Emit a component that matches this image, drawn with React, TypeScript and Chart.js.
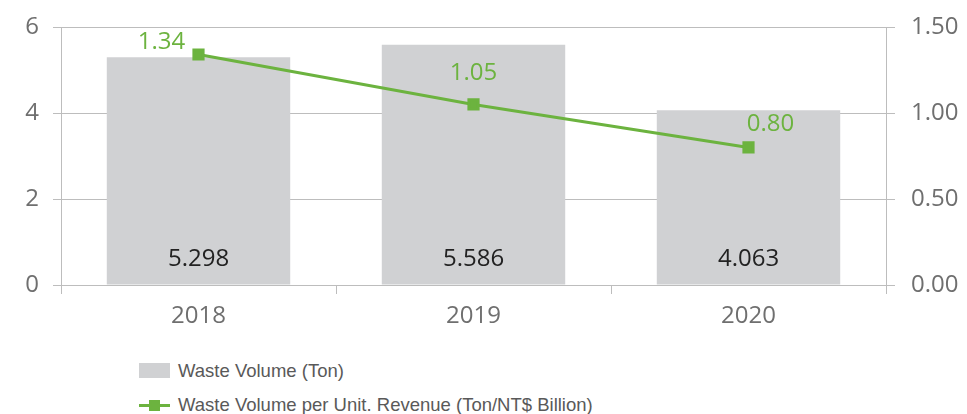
import React, { useEffect, useRef } from "react";
import { Chart, registerables } from "chart.js";

Chart.register(...registerables);

const categories = ["2018", "2019", "2020"];
const wasteVolume = [5.298, 5.586, 4.063];
const wastePerRevenue = [1.34, 1.05, 0.8];
const leftTicks = [0, 2, 4, 6];
const rightTicks = [0, 0.5, 1.0, 1.5];

const BAR_COLOR = "#d0d1d3";
const GREEN = "#6cb33f";
const TICK_COLOR = "#6f6f6f";
const GRID_COLOR = "#bdbdbd";
const FONT = "'Open Sans', 'Noto Sans', sans-serif";
const FONT_SIZE = 24;

// label offsets (px) for line point labels relative to the point
const lineLabelOffsets = [
  [-37, -12],
  [0, -31],
  [22, -23],
];

const labelPlugin = {
  id: "valueLabels",
  afterDatasetsDraw(chart: any) {
    const ctx = chart.ctx;
    ctx.save();
    ctx.font = `${FONT_SIZE}px ${FONT}`;
    ctx.textAlign = "center";
    ctx.textBaseline = "middle";
    const barMeta = chart.getDatasetMeta(0);
    const yScale = chart.scales.y;
    barMeta.data.forEach((el: any, i: number) => {
      ctx.fillStyle = "#222222";
      ctx.fillText(wasteVolume[i].toFixed(3), el.x, yScale.getPixelForValue(0) - 26);
    });
    const lineMeta = chart.getDatasetMeta(1);
    lineMeta.data.forEach((el: any, i: number) => {
      ctx.fillStyle = GREEN;
      const [dx, dy] = lineLabelOffsets[i];
      ctx.fillText(wastePerRevenue[i].toFixed(2), el.x + dx, el.y + dy);
    });
    ctx.restore();
  },
};

const noVerticalOverflow = (s: any, width: number) => {
  s.width = width;
  s.paddingTop = 0;
  s.paddingBottom = 0;
};

export default function App() {
  const canvasRef = useRef<HTMLCanvasElement | null>(null);

  useEffect(() => {
    if (!canvasRef.current) return;
    const chart = new Chart(canvasRef.current, {
      type: "bar",
      data: {
        labels: categories,
        datasets: [
          {
            type: "bar",
            label: "Waste Volume (Ton)",
            data: wasteVolume,
            backgroundColor: BAR_COLOR,
            yAxisID: "y",
            categoryPercentage: 1,
            barPercentage: 0.667,
            order: 2,
          },
          {
            type: "line",
            label: "Waste Volume per Unit. Revenue (Ton/NT$ Billion)",
            data: wastePerRevenue,
            borderColor: GREEN,
            backgroundColor: GREEN,
            borderWidth: 3,
            pointStyle: "rect",
            pointRadius: 6.5,
            pointHoverRadius: 6.5,
            yAxisID: "y1",
            order: 1,
          } as any,
        ],
      },
      options: {
        responsive: false,
        animation: false,
        events: [],
        layout: { padding: { top: 19, left: 0, right: 0, bottom: 0 } },
        plugins: {
          legend: { display: false },
          tooltip: { enabled: false },
        },
        scales: {
          x: {
            offset: true,
            grid: {
              offset: true,
              drawOnChartArea: false,
              drawTicks: true,
              tickLength: 9,
              color: GRID_COLOR,
            },
            border: { display: false },
            ticks: {
              color: TICK_COLOR,
              font: { family: FONT, size: FONT_SIZE },
              padding: 8,
            },
            afterFit: (s: any) => {
              s.height = 63;
              s.paddingLeft = 0;
              s.paddingRight = 0;
            },
          },
          y: {
            position: "left",
            min: 0,
            max: 6,
            afterBuildTicks: (s: any) => {
              s.ticks = leftTicks.map((v) => ({ value: v }));
            },
            grid: {
              color: GRID_COLOR,
              tickLength: 8,
            },
            border: { display: true, color: GRID_COLOR },
            ticks: {
              color: TICK_COLOR,
              font: { family: FONT, size: FONT_SIZE },
              padding: 14,
            },
            afterFit: (s: any) => noVerticalOverflow(s, 53),
          },
          y1: {
            position: "right",
            min: 0,
            max: 1.5,
            afterBuildTicks: (s: any) => {
              s.ticks = rightTicks.map((v) => ({ value: v }));
            },
            grid: {
              drawOnChartArea: false,
              color: GRID_COLOR,
              tickLength: 9,
            },
            border: { display: true, color: GRID_COLOR },
            ticks: {
              color: TICK_COLOR,
              font: { family: FONT, size: FONT_SIZE },
              padding: 16,
              callback: (v: any) => Number(v).toFixed(2),
            },
            afterFit: (s: any) => noVerticalOverflow(s, 81),
          },
        },
      },
      plugins: [labelPlugin],
    });
    return () => chart.destroy();
  }, []);

  const legendText: React.CSSProperties = {
    fontFamily: "'Liberation Sans', Arial, sans-serif",
    fontSize: 18.5,
    color: "#595959",
    position: "absolute",
    left: 39,
    whiteSpace: "nowrap",
    lineHeight: "20px",
  };

  return (
    <div style={{ position: "relative", width: 959, height: 406 }}>
      <canvas ref={canvasRef} width={959} height={340} style={{ display: "block" }} />
      <div style={{ position: "absolute", left: 131, top: 355, width: 700, height: 50 }}>
        <div style={{ position: "absolute", left: 0, top: 0, width: 31, height: 15, background: BAR_COLOR }} />
        <div style={{ ...legendText, top: -2 }}>Waste Volume (Ton)</div>
        <div style={{ position: "absolute", left: 0, top: 41, width: 31, height: 3, background: GREEN }} />
        <div style={{ position: "absolute", left: 10, top: 37, width: 11, height: 11, background: GREEN }} />
        <div style={{ ...legendText, top: 32 }}>Waste Volume per Unit. Revenue (Ton/NT$ Billion)</div>
      </div>
    </div>
  );
}
